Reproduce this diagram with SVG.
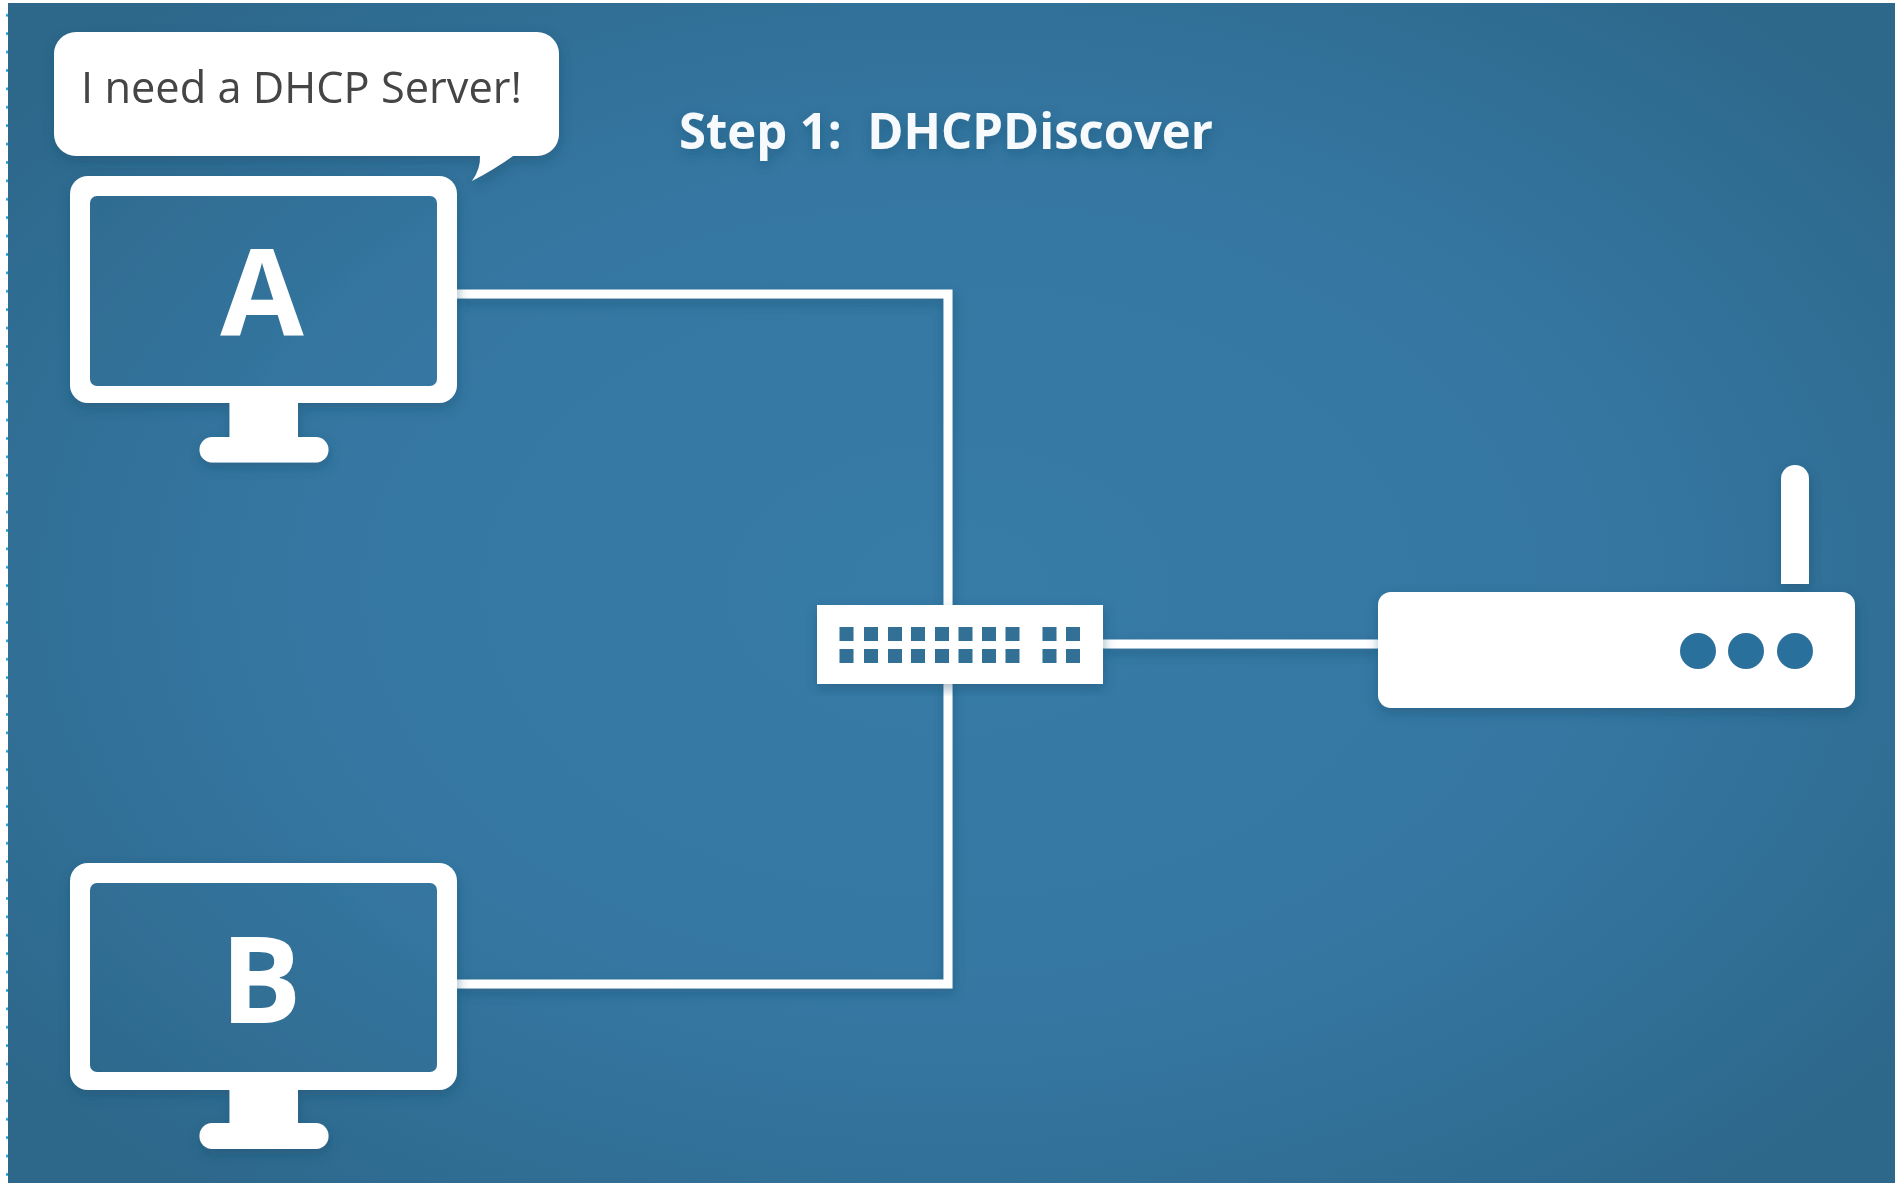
<svg xmlns="http://www.w3.org/2000/svg" width="1895" height="1183" viewBox="0 0 1895 1183">
<style>
.w{fill:#fff}
.hole{fill:url(#bg)}
.port{fill:#316f95}
.led{fill:#2c6f9c}
.line{fill:none;stroke:#fff;stroke-width:9}
.letter{font-family:"Open Sans","Liberation Sans",sans-serif;font-weight:700;font-size:121px;fill:#fff;text-anchor:middle}
</style>
<defs>
<radialGradient id="bg" gradientUnits="userSpaceOnUse" cx="950" cy="590" r="1180" gradientTransform="translate(950 590) scale(1 .66) translate(-950 -590)">
<stop offset="0" stop-color="#377ba7"/><stop offset=".55" stop-color="#3577a2"/><stop offset="1" stop-color="#2d688b"/>
</radialGradient>
<filter id="sh" x="-10%" y="-10%" width="120%" height="125%"><feDropShadow dx="1" dy="5" stdDeviation="6" flood-color="#1d4a66" flood-opacity=".4"/></filter>
<filter id="soft" filterUnits="userSpaceOnUse" x="0" y="0" width="1895" height="1183"><feGaussianBlur stdDeviation=".7"/></filter>
<pattern id="dots" width="8" height="18.4" patternUnits="userSpaceOnUse" y="6"><rect x="6" y="8" width="2" height="2.5" fill="#1c9bd6"/></pattern>
</defs>
<rect width="1895" height="1183" fill="#fff"/>
<rect x="0" y="0" width="8" height="1183" fill="url(#dots)"/>
<rect x="8" y="3" width="1887" height="1180" fill="url(#bg)"/>
<g filter="url(#soft)">
<g id="connectors" filter="url(#sh)">
<path class="line" d="M457 294H948V984H457"/>
<path class="line" d="M1103 644H1378"/>
</g>
<g id="bubble" filter="url(#sh)">
<path class="w" d="M76 32H537a22 22 0 0 1 22 22V134a22 22 0 0 1-22 22H513Q495 169 472 181 481 168 480 156H76a22 22 0 0 1-22-22V54a22 22 0 0 1 22-22Z"/>
<text x="81" y="103" font-family="'Open Sans','Liberation Sans',sans-serif" font-size="44" fill="#444" textLength="441" lengthAdjust="spacingAndGlyphs">I need a DHCP Server!</text>
</g>
<text id="title" x="679" y="149" xml:space="preserve" font-family="'Open Sans','Liberation Sans',sans-serif" font-weight="700" font-size="50" fill="#f7fafc" textLength="534" lengthAdjust="spacingAndGlyphs" filter="url(#sh)">Step 1:  DHCPDiscover</text>
<g id="computer-a" filter="url(#sh)">
<rect class="w" x="70" y="176" width="387" height="227" rx="18"/>
<rect class="hole" x="90" y="196" width="347" height="190" rx="7"/>
<rect class="w" x="229.500" y="400" width="68.500" height="45"/>
<rect class="w" x="199.500" y="437" width="129" height="25.500" rx="12.500"/>
<text class="letter" x="262" y="335">A</text>
</g>
<g id="computer-b" filter="url(#sh)">
<rect class="w" x="70" y="863" width="387" height="227" rx="18"/>
<rect class="hole" x="90" y="883" width="347" height="189" rx="7"/>
<rect class="w" x="229.500" y="1087" width="68.500" height="45"/>
<rect class="w" x="199.500" y="1123" width="129" height="26" rx="12.500"/>
<text class="letter" x="261" y="1023">B</text>
</g>
<g id="switch" filter="url(#sh)">
<rect class="w" x="817" y="605" width="286" height="79"/>
<g class="port">
<rect x="839.500" y="627" width="14" height="14"/><rect x="864" y="627" width="14" height="14"/><rect x="888" y="627" width="14" height="14"/><rect x="911" y="627" width="14" height="14"/><rect x="935" y="627" width="14" height="14"/><rect x="958.500" y="627" width="14" height="14"/><rect x="982" y="627" width="14" height="14"/><rect x="1005.500" y="627" width="14" height="14"/><rect x="1042.500" y="627" width="14" height="14"/><rect x="1066" y="627" width="14" height="14"/>
<rect x="839.500" y="649" width="14" height="14"/><rect x="864" y="649" width="14" height="14"/><rect x="888" y="649" width="14" height="14"/><rect x="911" y="649" width="14" height="14"/><rect x="935" y="649" width="14" height="14"/><rect x="958.500" y="649" width="14" height="14"/><rect x="982" y="649" width="14" height="14"/><rect x="1005.500" y="649" width="14" height="14"/><rect x="1042.500" y="649" width="14" height="14"/><rect x="1066" y="649" width="14" height="14"/>
</g>
</g>
<g id="router" filter="url(#sh)">
<path class="w" d="M1781 584V479a14 14 0 0 1 28 0V584Z"/>
<rect class="w" x="1378" y="592" width="477" height="116" rx="13"/>
<circle class="led" cx="1698" cy="651" r="18"/><circle class="led" cx="1746" cy="651" r="18"/><circle class="led" cx="1795" cy="651" r="18"/>
</g>
</g>
</svg>
